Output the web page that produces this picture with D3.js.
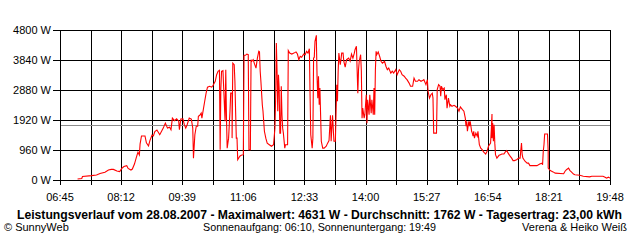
<!DOCTYPE html>
<html>
<head>
<meta charset="utf-8">
<script src="https://cdn.jsdelivr.net/npm/d3@7"></script>
<style>
  body { margin: 0; background: #fff; }
  svg { display: block; }
  text { font-family: "Liberation Sans", Arial, sans-serif; fill: #000; }
</style>
</head>
<body>
<svg id="chart" width="640" height="240"></svg>
<script>

// measured power (W) over the day
var times = [
  "07:10","07:16","07:17","07:30","07:37","07:42","07:49","07:54","07:58","08:01",
  "08:06","08:10","08:13","08:16","08:20","08:22","08:26","08:28","08:31","08:34",
  "08:36","08:38","08:39","08:41","08:46","08:48","08:51","08:53","08:56","08:58",
  "09:00","09:03","09:07","09:12","09:15","09:18","09:21","09:23","09:25","09:28",
  "09:31","09:34","09:35","09:37","09:40","09:42","09:44","09:46","09:49","09:52",
  "09:54","09:55","09:57","09:59","10:01","10:02","10:04","10:06","10:07","10:09",
  "10:11","10:13","10:15","10:18","10:21","10:23","10:26","10:28","10:30","10:32",
  "10:33","10:34","10:35","10:37","10:40","10:41","10:42","10:43","10:45","10:47",
  "10:48","10:50","10:50","10:51","10:53","10:54","10:55","10:56","10:57","10:58",
  "11:01","11:03","11:06","11:07","11:09","11:11","11:13","11:14","11:16","11:17",
  "11:18","11:20","11:22","11:24","11:26","11:28","11:29","11:30","11:31","11:33",
  "11:34","11:36","11:38","11:40","11:43","11:46","11:49","11:51","11:52","11:53",
  "11:54","11:55","11:56","11:57","11:58","11:59","12:00","12:01","12:02","12:03",
  "12:05","12:06","12:09","12:10","12:12","12:15","12:18","12:21","12:23","12:25",
  "12:27","12:29","12:32","12:34","12:36","12:38","12:40","12:41","12:42","12:44",
  "12:45","12:46","12:47","12:48","12:50","12:50","12:51","12:52","12:53","12:54",
  "12:55","12:56","12:57","12:59","13:01","13:04","13:06","13:08","13:10","13:11",
  "13:13","13:15","13:17","13:18","13:19","13:20","13:21","13:22","13:24","13:25",
  "13:26","13:28","13:29","13:31","13:33","13:36","13:38","13:40","13:42","13:44",
  "13:45","13:47","13:48","13:49","13:50","13:51","13:53","13:54","13:55","13:56",
  "13:58","13:59","14:01","14:02","14:03","14:05","14:06","14:08","14:09","14:11",
  "14:12","14:13","14:14","14:15","14:16","14:18","14:20","14:22","14:24","14:27",
  "14:29","14:31","14:33","14:36","14:38","14:40","14:43","14:45","14:48","14:50",
  "14:52","14:55","14:57","14:59","15:02","15:04","15:07","15:09","15:11","15:14",
  "15:16","15:19","15:21","15:23","15:26","15:28","15:29","15:31","15:33","15:35",
  "15:36","15:37","15:41","15:42","15:44","15:46","15:47","15:48","15:50","15:52",
  "15:53","15:55","15:56","15:58","16:00","16:01","16:03","16:06","16:08","16:11",
  "16:13","16:15","16:18","16:20","16:22","16:23","16:24","16:25","16:27","16:28",
  "16:29","16:31","16:32","16:33","16:34","16:35","16:37","16:39","16:40","16:42",
  "16:44","16:46","16:48","16:51","16:53","16:55","16:58","16:59","17:00","17:00",
  "17:01","17:02","17:03","17:04","17:05","17:07","17:10","17:12","17:14","17:17",
  "17:19","17:21","17:23","17:25","17:28","17:30","17:32","17:35","17:38","17:40",
  "17:42","17:43","17:44","17:47","17:50","17:52","17:54","18:04","18:08","18:11",
  "18:12","18:13","18:14","18:15","18:19","18:20","18:20","18:23","18:25","18:27",
  "18:30","18:42","18:44","18:46","18:49","18:51","18:53","18:56","18:58","19:05",
  "19:10","19:19","19:22","19:38","19:41","19:43","19:46","19:48"
];

var watts = [
  30,50,110,140,160,210,250,320,340,340,
  290,270,370,430,460,370,320,350,510,750,
  890,800,1150,1410,1410,1190,1090,1260,1440,1410,
  1550,1600,1450,1660,1820,1660,1690,1610,1980,1900,
  1960,1880,1610,1950,1960,1770,1660,1770,1980,1950,
  1660,700,1450,1720,1720,2040,2070,2140,1980,2250,
  2520,2780,2970,3000,2970,3030,3160,3370,3480,3510,
  970,2940,3480,3500,1880,3530,1980,1020,1340,2200,
  2780,2780,1340,3740,3690,3160,2200,1340,1340,650,
  760,790,810,3990,3990,4030,4010,970,970,3850,
  3800,3850,3710,3580,3900,4120,4100,3480,3160,2410,
  2200,1560,1340,1180,1130,1080,1130,1660,2620,4380,
  3480,2200,3370,2940,1500,1500,3000,2090,1660,1500,
  1020,1130,1130,4140,4060,4030,4060,4100,4030,3850,
  3960,3930,4030,4010,4120,4060,4200,2730,1450,1020,
  1340,3900,3930,4440,4631,4440,3260,2620,3320,2410,
  2940,2090,1240,1020,1020,1080,1180,1260,2070,1240,
  2070,1240,1240,2140,3050,2520,3480,4060,3690,3850,
  4060,4060,3800,3610,3850,3900,3800,4030,3900,4060,
  4170,4280,3530,2780,3530,3800,4010,3480,1980,2300,
  1980,2090,2730,1820,2570,2090,2730,2140,2570,2090,
  2940,2090,3530,4120,4010,4100,3960,3800,3740,3800,
  3640,3530,3580,3420,3480,3420,3530,3370,3530,3480,
  3370,3320,3260,3210,3100,3000,3000,3260,3160,3160,
  3210,3160,3180,3210,3050,3210,2840,2620,2730,2780,
  2620,1500,1500,2890,3050,3000,2680,3000,2890,2940,
  2570,2730,2300,2620,2360,2410,2360,2390,2360,2300,
  2200,2340,2250,2200,1980,1720,1880,1560,1880,1720,
  1880,1560,1500,1400,1560,1340,1500,1400,1560,1130,
  1020,970,900,830,920,1080,1180,1610,2110,1340,
  1820,1240,1770,1180,810,700,790,810,830,830,
  900,940,860,790,700,620,620,650,700,700,
  1180,810,700,600,540,540,460,460,510,540,
  490,920,1130,1470,1470,920,380,300,280,260,
  220,200,280,330,380,300,260,190,170,150,
  120,100,120,120,90,60,90,60
];

var yTicks = [0, 960, 1920, 2880, 3840, 4800];
var xTickLabels = ["06:45","08:12","09:39","11:06","12:33","14:00","15:27","16:54","18:21","19:48"];
var avgWatt = 1762;

var title = "Leistungsverlauf vom 28.08.2007 - Maximalwert: 4631 W - Durchschnitt: 1762 W - Tagesertrag: 23,00 kWh";
var footLeft = "\u00A9 SunnyWeb";
var footMid = "Sonnenaufgang: 06:10, Sonnenuntergang: 19:49";
var footRight = "Verena & Heiko Wei\u00DF";

function toMin(s) {
  var p = s.split(':');
  return +p[0] * 60 + +p[1];
}

var plotLeft = 60, plotRight = 610, plotTop = 30, plotBottom = 180;

var svg = d3.select('#chart');

var tMin = toMin(xTickLabels[0]);
var tMax = toMin(xTickLabels[xTickLabels.length - 1]);

var x = d3.scaleLinear().domain([tMin, tMax]).range([plotLeft, plotRight]);
var y = d3.scaleLinear().domain([0, 4800]).range([plotBottom, plotTop]);

svg.append('rect')
  .attr('width', 640).attr('height', 240)
  .attr('fill', '#fff');

// gridlines every half label step
var step = (toMin(xTickLabels[1]) - tMin) / 2;
var gridT = d3.range(0, Math.round((tMax - tMin) / step) + 1).map(function (i) { return tMin + i * step; });

var grid = svg.append('g')
  .attr('stroke', '#000')
  .attr('stroke-width', 1)
  .attr('shape-rendering', 'crispEdges');

grid.selectAll('.vgrid')
  .data(gridT)
  .enter().append('line')
  .attr('class', 'vgrid')
  .attr('x1', function (d) { return Math.round(x(d)) + 0.5; })
  .attr('x2', function (d) { return Math.round(x(d)) + 0.5; })
  .attr('y1', plotTop)
  .attr('y2', plotBottom + 5);

grid.selectAll('.hgrid')
  .data(yTicks)
  .enter().append('line')
  .attr('class', 'hgrid')
  .attr('x1', plotLeft - 7)
  .attr('x2', plotRight + 1)
  .attr('y1', function (d) { return Math.round(y(d)) + 0.5; })
  .attr('y2', function (d) { return Math.round(y(d)) + 0.5; });

// average line
svg.append('line')
  .attr('x1', plotLeft + 1).attr('x2', plotRight)
  .attr('y1', Math.round(y(avgWatt)) + 0.5)
  .attr('y2', Math.round(y(avgWatt)) + 0.5)
  .attr('stroke', '#8c8c8c')
  .attr('stroke-width', 1)
  .attr('shape-rendering', 'crispEdges');

// power curve
var data = times.map(function (t, i) { return { t: toMin(t), w: watts[i] }; });

var line = d3.line()
  .x(function (d) { return x(d.t); })
  .y(function (d) { return y(d.w); });

svg.append('path')
  .datum(data)
  .attr('d', line)
  .attr('fill', 'none')
  .attr('stroke', '#ff0000')
  .attr('stroke-width', 1.1);

// axis labels
svg.selectAll('.ylab')
  .data(yTicks)
  .enter().append('text')
  .attr('class', 'ylab')
  .attr('x', 51)
  .attr('y', function (d) { return y(d) + 4; })
  .attr('text-anchor', 'end')
  .style('font-size', '11px')
  .text(function (d) { return d + ' W'; });

svg.selectAll('.xlab')
  .data(xTickLabels)
  .enter().append('text')
  .attr('class', 'xlab')
  .attr('x', function (d) { return x(toMin(d)); })
  .attr('y', 201)
  .attr('text-anchor', 'middle')
  .style('font-size', '11px')
  .text(function (d) { return d; });

// title and footer
svg.append('text')
  .attr('x', 17)
  .attr('y', 219)
  .attr('textLength', 605)
  .attr('lengthAdjust', 'spacingAndGlyphs')
  .style('font-size', '12px')
  .style('font-weight', 'bold')
  .text(title);

svg.append('text')
  .attr('x', 4).attr('y', 231)
  .style('font-size', '11px')
  .text(footLeft);

svg.append('text')
  .attr('x', 203).attr('y', 231)
  .attr('textLength', 233)
  .attr('lengthAdjust', 'spacingAndGlyphs')
  .style('font-size', '11px')
  .text(footMid);

svg.append('text')
  .attr('x', 627).attr('y', 231)
  .attr('text-anchor', 'end')
  .style('font-size', '11px')
  .text(footRight);

</script>
</body>
</html>
